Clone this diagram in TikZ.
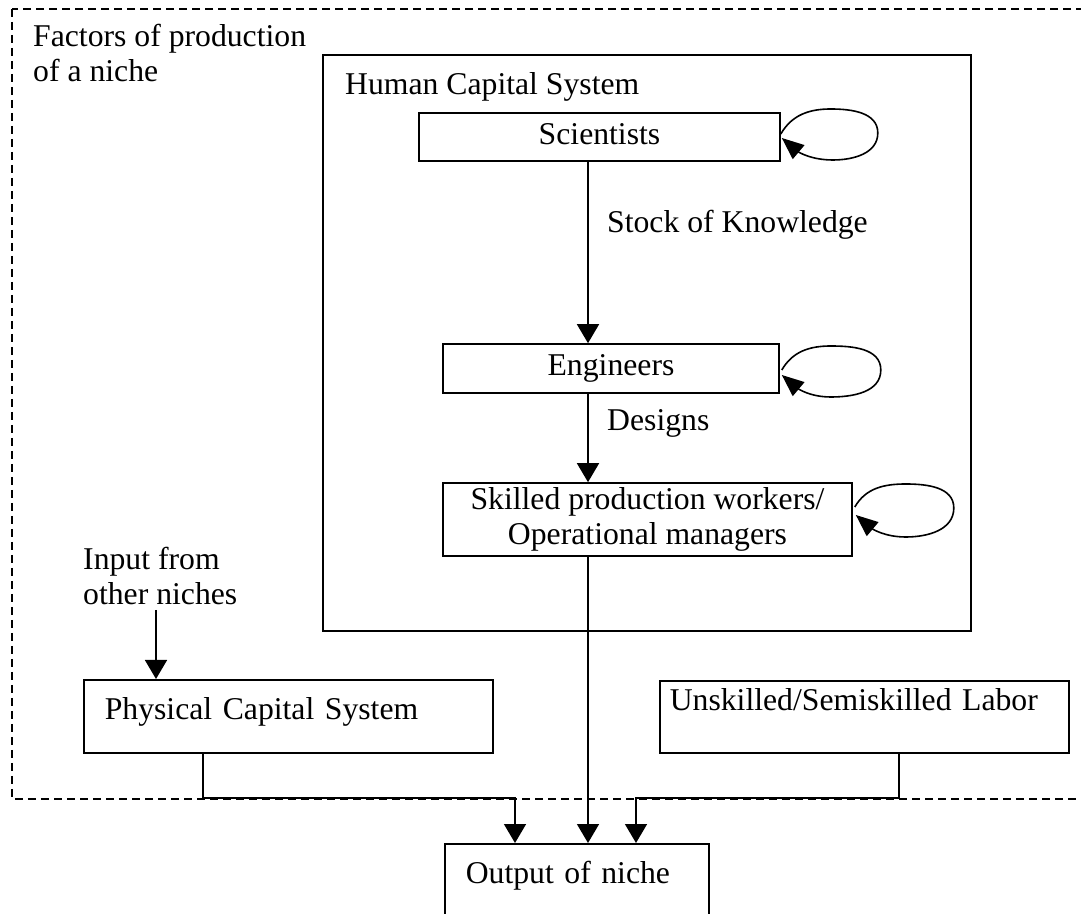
\documentclass[tikz,border=0pt]{standalone}
\usepackage{fontspec}
\setmainfont{Liberation Serif}
\usetikzlibrary{arrows.meta,calc}

\begin{document}
\begin{tikzpicture}[x=1pt,y=1pt,
  every node/.style={font=\fontsize{31.7}{35}\selectfont},
  box/.style={draw, line width=1.6pt, inner sep=0pt},
  conn/.style={line width=1.6pt},
  arr/.style={conn, -{Triangle[length=19pt,width=22pt]}},
  selfloop/.style={line width=1.6pt, -{Triangle[length=22pt,width=18pt]}},
  lbl/.style={inner sep=0pt, anchor=base west},
]
\useasboundingbox (0,0) rectangle (1081,913);
\clip (0,0) rectangle (1081,913);
\fill[white] (0,0) rectangle (1081,913);

% boundary of the factors of production (runs off the right edge)
\draw[line width=1.5pt, dash pattern=on 8pt off 5pt] (12,904) rectangle (1110,114);
\node[inner sep=0pt, anchor=north west, align=left] (factors) at (33,889)
  {Factors of production\\of a niche};

% human capital system
\node[box, minimum width=648pt, minimum height=576pt] (hcs) at (647,570) {};
\node[lbl] (hcslbl) at (345,818) {Human Capital System};

\node[box, minimum width=361pt, minimum height=48pt, text height=22pt, text depth=7pt]
  (sci) at (599.5,776) {Scientists};
\node[box, minimum width=336pt, minimum height=49pt, text height=22pt, text depth=7pt]
  (eng) at (611,544.5) {Engineers};
\node[box, minimum width=409pt, minimum height=73pt, align=center]
  (skl) at (647.5,393.5) {Skilled production workers/\\Operational managers};

\node[lbl] (stock) at (607,680) {Stock of Knowledge};
\node[lbl] (designs) at (607,482) {Designs};

% other factors
\node[box, anchor=north west, inner xsep=21pt, inner ysep=18pt, text width=367pt,
  align=left, text height=22pt, text depth=15pt] (phys) at (83,234) {Physical Capital System};
\node[box, anchor=north west, inner xsep=10pt, inner ysep=8pt, text width=389pt,
  align=left, text height=22pt, text depth=34pt] (unsk) at (659,233) {Unskilled/Semiskilled Labor};
\node[box, anchor=north west, inner xsep=21pt, inner ysep=18pt, text width=222pt,
  align=left, text height=22pt, text depth=59pt] (out) at (444,70) {Output of niche};

\node[inner sep=0pt, anchor=north west, align=left] (input) at (83,366)
  {Input from\\other niches};

% routing coordinates
\coordinate (ia) at (156,303);
\coordinate (spine) at (588,0);
\coordinate (ptap) at (203,0);
\coordinate (utap) at (899,0);
\coordinate (pdrop) at (515,0);
\coordinate (udrop) at (636,0);
\coordinate (bus) at (0,115);

% connectors
\draw[arr] (ia) -- (ia |- phys.north);
\draw[arr] (sci.south -| spine) -- (eng.north -| spine);
\draw[arr] (eng.south -| spine) -- (skl.north -| spine);
\draw[arr] (skl.south -| spine) -- (out.north -| spine);
\draw[arr] (phys.south -| ptap) |- (bus -| pdrop) -- (out.north -| pdrop);
\draw[arr] (unsk.south -| utap) |- (bus -| udrop) -- (out.north -| udrop);

% self loops
\draw[selfloop] ([shift={(0,3)}]sci.east) to[out=60,in=180] ++(50,25)
  to[out=0,in=90] ++(47,-24) to[out=-90,in=0] ++(-45,-27)
  to[out=180,in=-40] ([shift={(1,-1)}]sci.east);
\draw[selfloop] ([shift={(2,-1.5)}]eng.east) to[out=60,in=180] ++(49,24)
  to[out=0,in=90] ++(50,-24) to[out=-90,in=0] ++(-50,-27)
  to[out=180,in=-40] ([shift={(2,-6.5)}]eng.east);
\draw[selfloop] ([shift={(2,12.5)}]skl.east) to[out=60,in=180] ++(51,23)
  to[out=0,in=90] ++(48,-24) to[out=-90,in=0] ++(-48,-29)
  to[out=180,in=-40] ([shift={(3,4.5)}]skl.east);
\end{tikzpicture}
\end{document}
